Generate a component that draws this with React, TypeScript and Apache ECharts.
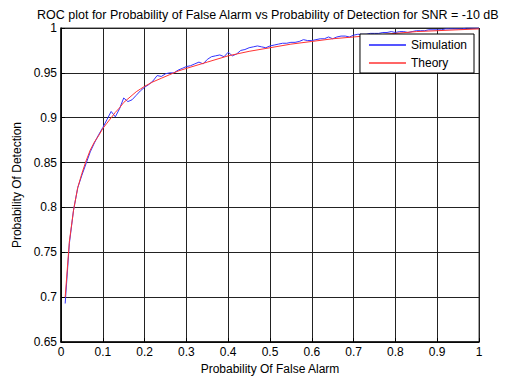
import React, { useEffect, useRef } from "react";
import * as echarts from "echarts";

const titleText = "ROC plot for Probability of False Alarm vs Probability of Detection for SNR = -10 dB";
const xName = "Probability Of False Alarm";
const yName = "Probability Of Detection";
const seriesNames = ["Simulation", "Theory"];

// Simulation: Pd at Pf = 0.01, 0.02, ..., 1.00
const simPf: number[] = Array.from({ length: 100 }, (_, i) => +((i + 1) / 100).toFixed(2));
const simPd: number[] = [
  0.693, 0.760, 0.797, 0.822, 0.836, 0.849, 0.862, 0.872, 0.881, 0.889,
  0.898, 0.907, 0.901, 0.910, 0.922, 0.918, 0.920, 0.925, 0.930, 0.934,
  0.937, 0.941, 0.947, 0.946, 0.949, 0.950, 0.950, 0.953, 0.955, 0.957,
  0.958, 0.960, 0.962, 0.960, 0.965, 0.968, 0.969, 0.970, 0.968, 0.973,
  0.969, 0.971, 0.975, 0.976, 0.978, 0.979, 0.980, 0.979, 0.978, 0.980,
  0.981, 0.982, 0.983, 0.983, 0.984, 0.984, 0.985, 0.987, 0.986, 0.986,
  0.987, 0.988, 0.988, 0.990, 0.988, 0.990, 0.991, 0.991, 0.990, 0.992,
  0.993, 0.993, 0.993, 0.994, 0.994, 0.994, 0.995, 0.995, 0.996, 0.995,
  0.996, 0.996, 0.995, 0.996, 0.997, 0.997, 0.997, 0.998, 0.998, 0.998,
  0.998, 0.999, 0.999, 0.999, 0.999, 0.999, 1.000, 1.000, 1.000, 1.000,
];

// Theory curve
const theoryPf: number[] = [
  0.01, 0.02, 0.03, 0.04, 0.05, 0.06, 0.07, 0.08, 0.09, 0.10,
  0.11, 0.12, 0.13, 0.14, 0.15, 0.16, 0.17, 0.18, 0.19, 0.20,
  0.22, 0.24, 0.26, 0.28, 0.30, 0.35, 0.40, 0.45, 0.50, 0.55,
  0.60, 0.65, 0.70, 0.75, 0.80, 0.85, 0.90, 0.95, 1.00,
];
const theoryPd: number[] = [
  0.700, 0.762, 0.797, 0.822, 0.838, 0.852, 0.864, 0.873, 0.880, 0.888,
  0.894, 0.900, 0.906, 0.911, 0.917, 0.921, 0.925, 0.929, 0.932, 0.935,
  0.940, 0.944, 0.948, 0.952, 0.955, 0.962, 0.969, 0.974, 0.978, 0.982,
  0.985, 0.988, 0.990, 0.992, 0.994, 0.996, 0.997, 0.998, 0.999,
];

const xTicks = { min: 0, max: 1, interval: 0.1 };
const yTicks = { min: 0.65, max: 1, interval: 0.05 };

const FONT = "'Liberation Sans', Arial, sans-serif";

export default function App() {
  const ref = useRef<HTMLDivElement>(null);
  useEffect(() => {
    if (!ref.current) return;
    const chart = echarts.init(ref.current, undefined, { renderer: "svg" });
    const simData = simPf.map((x, i) => [x, simPd[i]]);
    const theoryData = theoryPf.map((x, i) => [x, theoryPd[i]]);
    const fmt = (v: number) => String(+v.toFixed(2));
    chart.setOption({
      animation: false,
      backgroundColor: "#ffffff",
      textStyle: { fontFamily: FONT },
      title: {
        text: titleText,
        left: 32,
        top: 3,
        textStyle: { fontSize: 12.5, fontWeight: "normal", color: "#000", fontFamily: FONT },
      },
      grid: {
        left: 61,
        right: 27,
        top: 28,
        bottom: 37,
        show: true,
        borderColor: "#444",
        borderWidth: 1,
        backgroundColor: "#fff",
      },
      legend: {
        data: seriesNames,
        orient: "vertical",
        right: 32,
        top: 34,
        icon: "rect",
        itemWidth: 37,
        itemHeight: 2,
        itemGap: 6,
        padding: [5, 7, 4, 9],
        backgroundColor: "#fff",
        borderColor: "#000",
        borderWidth: 1,
        borderRadius: 0,
        textStyle: { fontSize: 12, color: "#000", fontFamily: FONT },
      },
      xAxis: {
        type: "value",
        min: xTicks.min,
        max: xTicks.max,
        interval: xTicks.interval,
        name: xName,
        nameLocation: "middle",
        nameGap: 20,
        nameTextStyle: { fontSize: 12, color: "#000", fontFamily: FONT },
        axisLine: { show: true, onZero: false, lineStyle: { color: "#000", width: 1.5 } },
        axisTick: { show: true, inside: true, length: 4, lineStyle: { color: "#000" } },
        axisLabel: { fontSize: 12, color: "#000", margin: 4, formatter: fmt, fontFamily: FONT },
        splitLine: { show: true, lineStyle: { color: "#222", width: 1 } },
      },
      yAxis: {
        type: "value",
        min: yTicks.min,
        max: yTicks.max,
        interval: yTicks.interval,
        name: yName,
        nameLocation: "middle",
        nameGap: 35,
        nameTextStyle: { fontSize: 12, color: "#000", fontFamily: FONT },
        axisLine: { show: true, onZero: false, lineStyle: { color: "#000", width: 1.5 } },
        axisTick: { show: true, inside: true, length: 4, lineStyle: { color: "#000" } },
        axisLabel: { fontSize: 12, color: "#000", margin: 4, formatter: fmt, fontFamily: FONT },
        splitLine: { show: true, lineStyle: { color: "#222", width: 1 } },
      },
      series: [
        {
          name: seriesNames[0],
          type: "line",
          data: simData,
          symbol: "none",
          showSymbol: false,
          color: "#5555ff",
          lineStyle: { color: "#3333ff", width: 1 },
          z: 2,
        },
        {
          name: seriesNames[1],
          type: "line",
          data: theoryData,
          symbol: "none",
          showSymbol: false,
          smooth: false,
          color: "#ff6666",
          lineStyle: { color: "#ff3333", width: 1 },
          z: 3,
        },
      ],
    });
    return () => chart.dispose();
  }, []);
  return <div ref={ref} style={{ width: 506, height: 380, position: "absolute", left: 0, top: 0 }} />;
}
